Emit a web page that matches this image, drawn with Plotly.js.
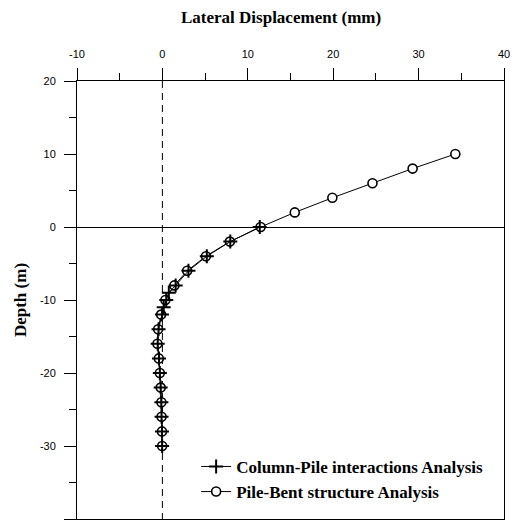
<!DOCTYPE html>
<html>
<head>
<meta charset="utf-8">
<script src="https://cdn.plot.ly/plotly-3.0.1.min.js"></script>
<style>html,body{margin:0;padding:0;background:#fff;}#chart{width:516px;height:524px;}</style>
</head>
<body>
<div id="chart"></div>
<script>
// Column-Pile interactions Analysis (crosses)
var depthColumn = [0, -2, -4, -6, -8, -9, -10, -11, -12, -14, -16, -18, -20, -22, -24, -26, -28, -30];
var dispColumn  = [11.4, 7.95, 5.2, 3.05, 1.55, 0.75, 0.45, 0.15, -0.05, -0.45, -0.55, -0.4, -0.3, -0.2, -0.12, -0.1, -0.05, -0.03];
// Pile-Bent structure Analysis (circles)
var depthBent = [10, 8, 6, 4, 2, 0, -2, -4, -6, -8, -10, -12, -14, -16, -18, -20, -22, -24, -26, -28, -30];
var dispBent  = [34.3, 29.3, 24.6, 19.9, 15.5, 11.5, 7.9, 5.1, 2.9, 1.4, 0.35, -0.15, -0.5, -0.58, -0.42, -0.3, -0.2, -0.12, -0.1, -0.05, -0.03];
var xTicks = [-10, 0, 10, 20, 30, 40];
var xTickText = ['-10', '0', '10', '20', '30', '40'];
var yTicks = [-40, -30, -20, -10, 0, 10, 20];
var yTickText = ['-40', '-30', '-20', '-10', '0', '10', '20'];
var refX = [0, 0];
var refY = [20, -40];

var serif = 'Liberation Serif, Times New Roman, serif';
var sans = 'Liberation Sans, Arial, sans-serif';

var traces = [
  {
    x: refX, y: refY, mode: 'lines', showlegend: false, hoverinfo: 'skip',
    line: {color: '#000', width: 1, dash: '7px,5px'}
  },
  {
    x: dispBent, y: depthBent, mode: 'lines+markers', name: '<b>Pile-Bent structure Analysis</b>',
    line: {color: '#000', width: 1},
    marker: {symbol: 'circle', size: 9, color: '#fff', line: {color: '#000', width: 1.6}}
  },
  {
    x: dispColumn, y: depthColumn, mode: 'lines+markers', name: '<b>Column-Pile interactions Analysis</b>',
    line: {color: '#000', width: 1},
    marker: {symbol: 'cross-thin-open', size: 10, color: '#000', line: {color: '#000', width: 2}}
  }
];

var layout = {
  width: 516, height: 524,
  margin: {l: 77, r: 12, t: 81, b: 5},
  paper_bgcolor: '#fff', plot_bgcolor: '#fff',
  showlegend: true,
  title: {
    text: '<b>Lateral Displacement (mm)</b>',
    font: {family: serif, size: 17, color: '#000'},
    xref: 'paper', x: 0.478, xanchor: 'center',
    yref: 'container', y: 0.967, yanchor: 'middle'
  },
  xaxis: {
    side: 'top', range: [-10, 40], tickvals: xTicks, ticktext: xTickText,
    ticks: 'outside', ticklen: 12, tickwidth: 1, tickcolor: '#000', ticklabelstandoff: 6,
    minor: {dtick: 5, ticks: 'outside', ticklen: 7, tickcolor: '#000', tickwidth: 1, showgrid: false},
    showline: true, linecolor: '#000', linewidth: 1, mirror: true,
    showgrid: false, zeroline: false,
    tickfont: {family: sans, size: 11, color: '#000'}
  },
  yaxis: {
    range: [-40, 20], tickvals: yTicks, ticktext: yTickText,
    ticks: 'outside', ticklen: 12, tickwidth: 1, tickcolor: '#000', ticklabelstandoff: 6,
    minor: {dtick: 5, ticks: 'outside', ticklen: 7, tickcolor: '#000', tickwidth: 1, showgrid: false},
    showline: true, linecolor: '#000', linewidth: 1, mirror: true,
    showgrid: false, zeroline: true, zerolinecolor: '#000', zerolinewidth: 1,
    tickfont: {family: sans, size: 11, color: '#000'},
    title: {text: '<b>Depth (m)</b>', font: {family: serif, size: 17, color: '#000'}, standoff: 8}
  },
  legend: {
    x: 0.279, y: 0.16, xanchor: 'left', yanchor: 'top',
    bgcolor: 'rgba(0,0,0,0)', borderwidth: 0,
    font: {family: serif, size: 17, color: '#000'},
    traceorder: 'reversed'
  }
};

Plotly.newPlot('chart', traces, layout, {displayModeBar: false, staticPlot: true});
</script>
</body>
</html>
